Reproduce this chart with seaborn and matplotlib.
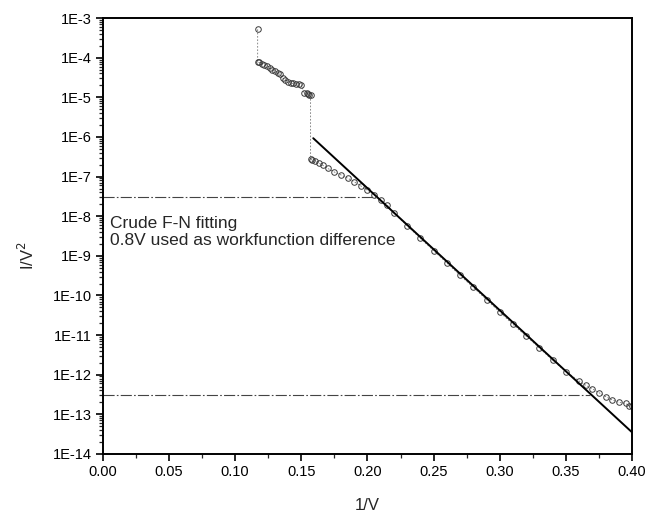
import numpy as np
import pandas as pd
import matplotlib
matplotlib.use("Agg")
import matplotlib.pyplot as plt
import seaborn as sns
from matplotlib.ticker import FixedLocator, LogLocator, FuncFormatter, NullFormatter

# measured data: 1/V vs I/V^2
inv_v = [0.117, 0.117, 0.118, 0.120, 0.122, 0.124, 0.126, 0.128, 0.130, 0.132,
         0.134, 0.136, 0.138, 0.140, 0.142, 0.144, 0.146, 0.148, 0.150, 0.152,
         0.154, 0.155, 0.156, 0.157,
         0.157, 0.158, 0.160, 0.163, 0.166, 0.170, 0.175, 0.180, 0.185, 0.190,
         0.195, 0.200, 0.205, 0.210, 0.215,
         0.220, 0.230, 0.240, 0.250, 0.260, 0.270, 0.280, 0.290, 0.300, 0.310,
         0.320, 0.330, 0.340, 0.350, 0.360, 0.365, 0.370, 0.375, 0.380, 0.385,
         0.390, 0.395, 0.398, 0.400]
i_v2 = [5.2e-4, 7.9e-5, 7.6e-5, 7.1e-5, 6.6e-5, 6.3e-5, 5.6e-5, 5.0e-5, 4.7e-5, 4.0e-5,
        3.8e-5, 3.0e-5, 2.8e-5, 2.5e-5, 2.3e-5, 2.24e-5, 2.2e-5, 2.2e-5, 2.1e-5, 1.3e-5,
        1.26e-5, 1.2e-5, 1.17e-5, 1.17e-5,
        2.8e-7, 2.6e-7, 2.5e-7, 2.2e-7, 1.95e-7, 1.6e-7, 1.3e-7, 1.1e-7, 9.1e-8, 7.4e-8,
        5.8e-8, 4.5e-8, 3.5e-8, 2.6e-8, 1.9e-8,
        1.2e-8, 5.75e-9, 2.75e-9, 1.35e-9, 6.6e-10, 3.2e-10, 1.6e-10, 7.8e-11, 3.8e-11, 1.86e-11,
        9.3e-12, 4.7e-12, 2.3e-12, 1.2e-12, 6.9e-13, 5.4e-13, 4.4e-13, 3.5e-13, 2.8e-13, 2.3e-13,
        2.0e-13, 1.9e-13, 1.6e-13, 1.65e-13]

# crude F-N fit line (end points)
fit_x = [0.159, 0.400]
fit_y = [9.3e-7, 3.5e-14]

# horizontal guide lines
guide_y = [3.1e-8, 3.0e-13]
guide_x_end = [0.207, 0.368]

x_ticks = [0.00, 0.05, 0.10, 0.15, 0.20, 0.25, 0.30, 0.35, 0.40]

sns.set_style("ticks")
plt.rcParams['font.family'] = ['Liberation Sans', 'DejaVu Sans']
plt.rcParams['axes.unicode_minus'] = False

fig = plt.figure(figsize=(6.51, 5.17), dpi=100)
ax = fig.add_axes([0.158, 0.122, 0.813, 0.843])

df = pd.DataFrame({"x": inv_v, "y": i_v2})
sns.lineplot(data=df, x="x", y="y", sort=False, estimator=None, ax=ax,
             color="#777777", linewidth=0.6, linestyle=(0, (2, 2)),
             marker="o", markersize=4, markerfacecolor="none",
             markeredgecolor="#3a3a3a", markeredgewidth=0.7)

sns.lineplot(x=fit_x, y=fit_y, ax=ax, color="black", linewidth=1.4)

for gy, gx in zip(guide_y, guide_x_end):
    ax.hlines(gy, 0, gx, colors="#444444", linewidth=0.8,
              linestyles=[(0, (10, 2, 1.5, 2))])

ax.set_yscale("log")
ax.set_xlim(0, 0.40)
ax.set_ylim(1e-14, 1e-3)

ax.xaxis.set_major_locator(FixedLocator(x_ticks))
ax.xaxis.set_minor_locator(FixedLocator([t + 0.025 for t in x_ticks[:-1]]))
ax.xaxis.set_major_formatter(FuncFormatter(lambda v, p: f"{v:.2f}"))

ax.yaxis.set_major_locator(LogLocator(base=10, numticks=20))
ax.yaxis.set_minor_locator(LogLocator(base=10, subs=np.arange(2, 10), numticks=20))
ax.yaxis.set_major_formatter(FuncFormatter(lambda v, p: f"1E{int(round(np.log10(v)))}"))
ax.yaxis.set_minor_formatter(NullFormatter())

ax.tick_params(axis="both", which="major", direction="out", length=5, width=1.2,
               labelsize=10.5, colors="black", pad=3)
ax.tick_params(axis="both", which="minor", direction="out", length=3, width=0.9)
for s in ax.spines.values():
    s.set_linewidth(1.4)
    s.set_color("black")

ax.set_xlabel("1/V", fontsize=12)
ax.set_ylabel("I/V$^2$", fontsize=12)
ax.yaxis.set_label_coords(-0.125, 0.455)
ax.xaxis.set_label_coords(0.5, -0.1)

ax.text(0.013, 0.51, "Crude F-N fitting\n0.8V used as workfunction difference",
        transform=ax.transAxes, fontsize=12.5, va="center", ha="left",
        linespacing=1.15)

ax.grid(False)
fig.savefig("out.png", dpi=100)
